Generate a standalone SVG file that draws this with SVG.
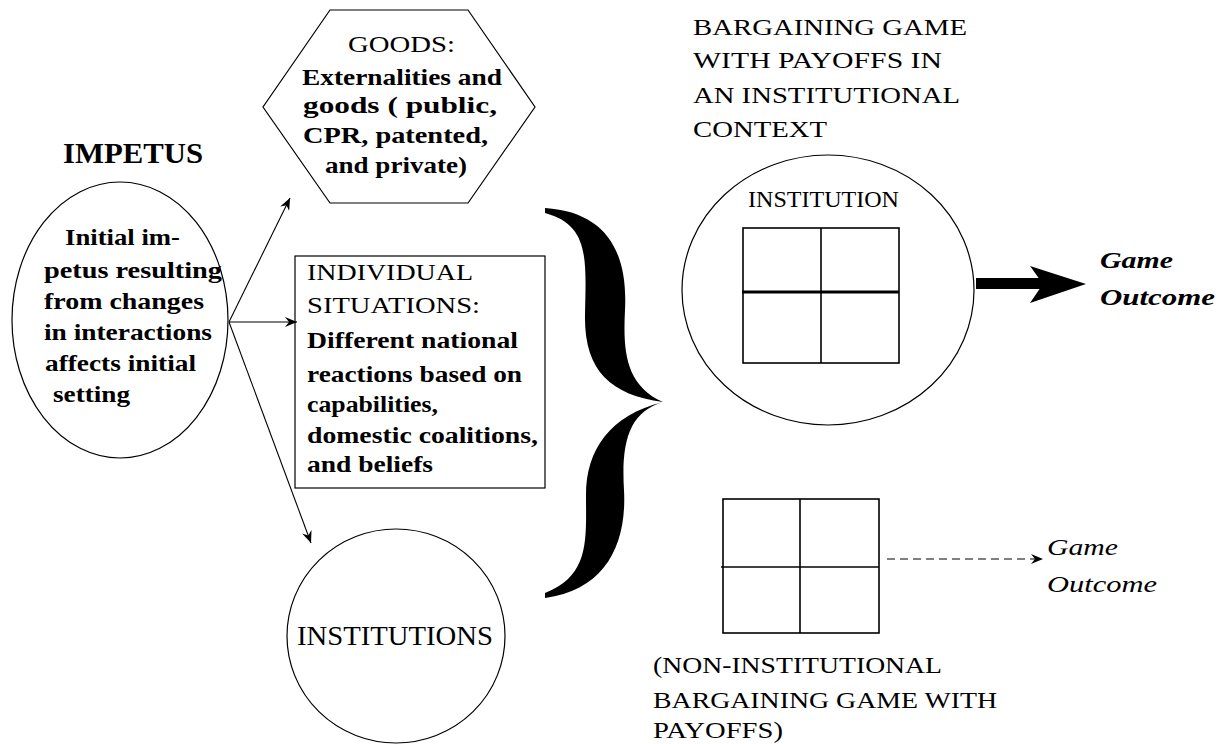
<svg xmlns="http://www.w3.org/2000/svg" width="1225" height="744" viewBox="0 0 1225 744">
<style>
  text { font-family: "Liberation Serif", "Times New Roman", serif; fill: #000; }
  .b { font-size: 24px; font-weight: bold; }
  .r { font-size: 24px; }
  .shape { fill: none; stroke: #000; stroke-width: 1.2; }
  .grid { fill: none; stroke: #000; stroke-width: 1.6; }
  .conn { fill: none; stroke: #000; stroke-width: 1.1; }
</style>
<defs>
  <marker id="ah" markerUnits="userSpaceOnUse" markerWidth="14" markerHeight="10" refX="12" refY="5" orient="auto">
    <path d="M0,0 L12,5 L0,10 L4,5 Z" fill="#000"/>
  </marker>
</defs>
<rect width="1225" height="744" fill="#fff"/>

<g id="impetus">
  <text class="b" x="63" y="163" style="font-size:30px" textLength="140" lengthAdjust="spacingAndGlyphs">IMPETUS</text>
  <ellipse class="shape" cx="120" cy="320" rx="108" ry="138"/>
  <text class="b" x="65" y="245" textLength="115" lengthAdjust="spacingAndGlyphs">Initial im-</text>
  <text class="b" x="44" y="278" textLength="178" lengthAdjust="spacingAndGlyphs">petus resulting</text>
  <text class="b" x="44" y="309" textLength="160" lengthAdjust="spacingAndGlyphs">from changes</text>
  <text class="b" x="44" y="340" textLength="168" lengthAdjust="spacingAndGlyphs">in interactions</text>
  <text class="b" x="45" y="371" textLength="151" lengthAdjust="spacingAndGlyphs">affects initial</text>
  <text class="b" x="53" y="402" textLength="77" lengthAdjust="spacingAndGlyphs">setting</text>
</g>

<g id="goods">
  <polygon class="shape" points="330,10 468,10 535,107 468,203 330,203 263,107"/>
  <text class="r" x="348" y="52" textLength="107" lengthAdjust="spacingAndGlyphs">GOODS:</text>
  <text class="b" x="302" y="85" textLength="200" lengthAdjust="spacingAndGlyphs">Externalities and</text>
  <text class="b" x="303" y="113" textLength="194" lengthAdjust="spacingAndGlyphs">goods ( public,</text>
  <text class="b" x="303" y="143" textLength="185" lengthAdjust="spacingAndGlyphs">CPR, patented,</text>
  <text class="b" x="325" y="173" textLength="142" lengthAdjust="spacingAndGlyphs">and private)</text>
</g>

<g id="individual">
  <rect class="shape" x="295" y="256" width="250" height="232" stroke-width="1.6"/>
  <text class="r" x="307" y="280" textLength="166" lengthAdjust="spacingAndGlyphs">INDIVIDUAL</text>
  <text class="r" x="307" y="313" textLength="173" lengthAdjust="spacingAndGlyphs">SITUATIONS:</text>
  <text class="b" x="307" y="348" textLength="211" lengthAdjust="spacingAndGlyphs">Different national</text>
  <text class="b" x="307" y="382" textLength="215" lengthAdjust="spacingAndGlyphs">reactions based on</text>
  <text class="b" x="307" y="412" textLength="131" lengthAdjust="spacingAndGlyphs">capabilities,</text>
  <text class="b" x="307" y="443" textLength="231" lengthAdjust="spacingAndGlyphs">domestic coalitions,</text>
  <text class="b" x="307" y="472" textLength="126" lengthAdjust="spacingAndGlyphs">and beliefs</text>
</g>

<g id="institutions">
  <ellipse class="shape" cx="396" cy="636" rx="109" ry="107"/>
  <text class="r" x="297" y="645" style="font-size:28px" textLength="196" lengthAdjust="spacingAndGlyphs">INSTITUTIONS</text>
</g>

<g id="brace">
  <path d="M545,208 C605,212 628,250 625,310 C623,350 625,385 663,402 C610,395 584,370 585,315 C586,260 590,225 545,213 Z" fill="#000"/>
  <path d="M663,402 C630,412 621,440 624,490 C627,545 605,590 545,598 L545,593 C590,575 586,540 586,495 C586,450 610,415 663,402 Z" fill="#000"/>
</g>

<g id="institutional-game">
  <text class="r" x="693" y="35" textLength="274" lengthAdjust="spacingAndGlyphs">BARGAINING GAME</text>
  <text class="r" x="693" y="68" textLength="249" lengthAdjust="spacingAndGlyphs">WITH PAYOFFS IN</text>
  <text class="r" x="693" y="103" textLength="267" lengthAdjust="spacingAndGlyphs">AN INSTITUTIONAL</text>
  <text class="r" x="693" y="137" textLength="134" lengthAdjust="spacingAndGlyphs">CONTEXT</text>
  <ellipse class="shape" cx="828" cy="290" rx="146" ry="135"/>
  <text class="r" x="748" y="207" textLength="151" lengthAdjust="spacingAndGlyphs">INSTITUTION</text>
  <rect class="grid" x="743" y="228" width="156" height="135"/>
  <line class="grid" x1="821" y1="228" x2="821" y2="363"/>
  <line x1="742" y1="292" x2="899" y2="292" stroke="#000" stroke-width="3"/>
</g>

<g id="game-outcome">
  <text x="1100" y="268" style="font-size:24px;font-weight:bold;font-style:italic" textLength="73" lengthAdjust="spacingAndGlyphs">Game</text>
  <text x="1100" y="305" style="font-size:24px;font-weight:bold;font-style:italic" textLength="115" lengthAdjust="spacingAndGlyphs">Outcome</text>
</g>

<g id="non-institutional-game">
  <rect class="grid" x="723" y="499" width="156" height="134"/>
  <line class="grid" x1="800" y1="499" x2="800" y2="633"/>
  <line class="grid" x1="721" y1="567" x2="879" y2="567"/>
  <text class="r" x="653" y="673" textLength="289" lengthAdjust="spacingAndGlyphs">(NON-INSTITUTIONAL</text>
  <text class="r" x="653" y="708" textLength="344" lengthAdjust="spacingAndGlyphs">BARGAINING GAME WITH</text>
  <text class="r" x="653" y="738" textLength="130" lengthAdjust="spacingAndGlyphs">PAYOFFS)</text>
</g>

<g id="game-outcome-2">
  <text x="1047" y="555" style="font-size:24px;font-style:italic" textLength="71" lengthAdjust="spacingAndGlyphs">Game</text>
  <text x="1047" y="592" style="font-size:24px;font-style:italic" textLength="110" lengthAdjust="spacingAndGlyphs">Outcome</text>
</g>

<g id="connectors">
  <line class="conn" x1="229" y1="322" x2="290" y2="198" marker-end="url(#ah)"/>
  <line class="conn" x1="229" y1="322" x2="297" y2="322" marker-end="url(#ah)"/>
  <line class="conn" x1="229" y1="322" x2="311" y2="543" marker-end="url(#ah)"/>
  <rect x="976" y="278" width="70" height="11" fill="#000"/>
  <polygon points="1030,266 1086,284 1030,303 1043,284" fill="#000"/>
  <line class="conn" x1="887" y1="559" x2="1043" y2="559" stroke-dasharray="8,5" marker-end="url(#ah)"/>
</g>
</svg>
